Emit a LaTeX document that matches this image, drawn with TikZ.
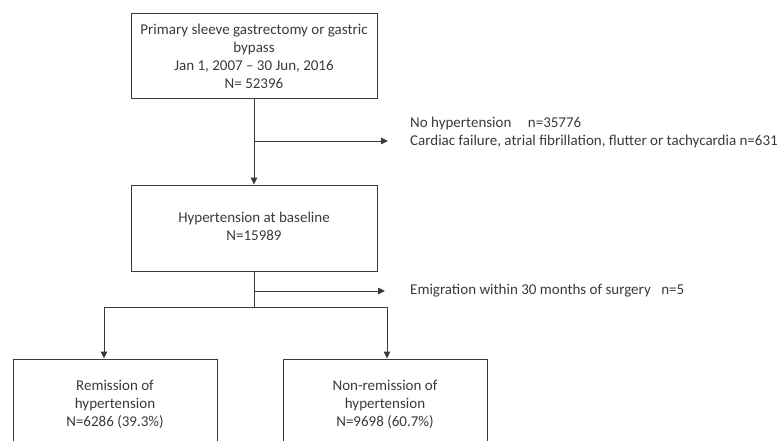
\documentclass[tikz,border=0pt]{standalone}
\usepackage{fontspec}
\setmainfont{Carlito}
\usetikzlibrary{arrows.meta}
\definecolor{ln}{HTML}{3A3A3A}
\definecolor{tx}{HTML}{3A3A3A}
\begin{document}
\begin{tikzpicture}[x=1pt,y=-1pt,
  box/.style={draw=ln,line width=1pt,minimum width=#1,inner sep=0pt,align=center,text=tx,font=\fontsize{15}{18}\selectfont},
  lbl/.style={anchor=west,inner sep=0pt,text=tx,font=\fontsize{15}{18}\selectfont},
  conn/.style={draw=ln,line width=1pt},
  arr/.style={conn,-{Triangle[length=7pt,width=6.5pt]}}]
\useasboundingbox (0,0) rectangle (781,441);
\begin{scope}
\clip (0,0) rectangle (781,441);
\node[box=246pt,minimum height=85pt] (top) at (254,56.5) {Primary sleeve gastrectomy or gastric\\bypass\\Jan 1, 2007 -- 30 Jun, 2016\\N= 52396};
\node[box=246pt,minimum height=86pt] (base) at (254,228) {\raisebox{5pt}{\begin{tabular}{@{}c@{}}Hypertension at baseline\\N=15989\end{tabular}}};
\node[box=204pt,minimum height=90pt] (rem) at (115,404) {Remission of\\hypertension\\N=6286 (39.3\%)};
\node[box=204pt,minimum height=90pt] (nrem) at (385,404) {Non-remission of\\hypertension\\N=9698 (60.7\%)};
\coordinate (s1) at (254,141);
\coordinate (s1e) at (388,141);
\coordinate (s2) at (254,291);
\coordinate (s2e) at (385,291);
\coordinate (br) at (254,307);
\coordinate (brL) at (104,307);
\coordinate (brR) at (387,307);
\node[lbl] (ex1a) at (410,124) {No hypertension\hspace{1.1em}n=35776};
\node[lbl] (ex1b) at (410,142) {Cardiac failure, atrial fibrillation, flutter or tachycardia n=631};
\node[lbl] (ex2) at (410,291) {Emigration within 30 months of surgery\hspace{0.7em}n=5};
\draw[arr] (top.south) -- (base.north);
\draw[arr] (s1) -- (s1e);
\draw[conn] (base.south) -- (br);
\draw[arr] (s2) -- (s2e);
\draw[conn] (brL) -- (brR);
\draw[arr] (brL) -- (brL |- rem.north);
\draw[arr] (brR) -- (brR |- nrem.north);
\end{scope}
\end{tikzpicture}
\end{document}
